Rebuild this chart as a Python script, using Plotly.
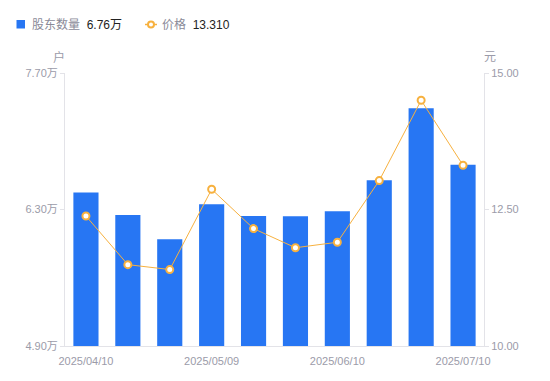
import plotly.graph_objects as go

dates = ["2025/04/10", "2025/04/18", "2025/04/30", "2025/05/09", "2025/05/20",
         "2025/05/30", "2025/06/10", "2025/06/20", "2025/06/30", "2025/07/10"]
holders = [64740, 62440, 59940, 63530, 62330, 62300, 62820, 66000, 73380, 67600]
price = [12.38, 11.49, 11.40, 12.87, 12.15, 11.80, 11.90, 13.03, 14.50, 13.31]

left_ticks = [49000, 63000, 77000]
left_tick_text = ["4.90万", "6.30万", "7.70万"]
right_ticks = [10, 12.5, 15]
right_tick_text = ["10.00", "12.50", "15.00"]
x_tick_dates = [dates[0], dates[3], dates[6], dates[9]]

BLUE = "#2776F3"
ORANGE = "#F7B13F"
GRAY = "#9B9BA9"
AXIS = "#E3E3E8"
FONT = "Liberation Sans, Noto Sans CJK SC, sans-serif"

# plot area in screen pixels (page has 8px body margin)
PL, PR, PT, PB = 65, 484, 73, 346
PW, PH = PR - PL, PB - PT


def px(x):
    return (x - PL) / PW


def py(y):
    return (PB - y) / PH


fig = go.Figure()
fig.add_trace(go.Bar(x=dates, y=holders, marker=dict(color=BLUE, line=dict(width=0)),
                     width=0.6, yaxis="y", showlegend=False))
fig.add_trace(go.Scatter(x=dates, y=price, yaxis="y2", mode="lines+markers",
                         line=dict(color=ORANGE, width=1),
                         marker=dict(size=7, color="white", line=dict(color=ORANGE, width=2)),
                         showlegend=False))

fig.update_layout(
    width=542, height=373,
    margin=dict(l=PL - 8, r=542 - (PL - 8) - PW, t=PT - 8, b=373 - (PT - 8) - PH),
    plot_bgcolor="white", paper_bgcolor="white",
    font=dict(family=FONT, size=11, color=GRAY),
    xaxis=dict(type="category", tickvals=x_tick_dates, ticktext=x_tick_dates,
               showline=True, linecolor=AXIS, linewidth=1,
               ticks="outside", ticklen=5, tickcolor="rgba(0,0,0,0)", showgrid=False,
               tickfont=dict(size=11, color=GRAY), range=[-0.5, 9.5]),
    yaxis=dict(range=[49000, 77000], tickvals=left_ticks, ticktext=left_tick_text,
               showline=True, linecolor=AXIS, ticks="outside", ticklen=4, tickcolor=AXIS,
               showgrid=False, zeroline=False, tickfont=dict(size=11, color=GRAY)),
    yaxis2=dict(range=[10, 15], tickvals=right_ticks, ticktext=right_tick_text,
                overlaying="y", side="right",
                showline=True, linecolor=AXIS, ticks="outside", ticklen=4, tickcolor=AXIS,
                showgrid=False, zeroline=False, tickfont=dict(size=11, color=GRAY)),
)

# axis unit titles
fig.add_annotation(text="户", xref="paper", yref="paper", x=px(59), y=py(57),
                   xanchor="center", yanchor="middle",
                   showarrow=False, font=dict(size=12, color=GRAY))
fig.add_annotation(text="元", xref="paper", yref="paper", x=px(490), y=py(57),
                   xanchor="center", yanchor="middle",
                   showarrow=False, font=dict(size=12, color=GRAY))

# custom legend
fig.add_shape(type="rect", xref="paper", yref="paper",
              x0=px(16.5), x1=px(25), y0=py(28.5), y1=py(20),
              fillcolor=BLUE, line=dict(width=0))
fig.add_annotation(xref="paper", yref="paper", x=px(30), y=py(24.5),
                   xanchor="left", yanchor="middle", showarrow=False,
                   text=f"股东数量  <span style='color:#222222'>{holders[-1]/10000:.2f}万</span>",
                   font=dict(size=12, color="#8A8A98"))
fig.add_shape(type="line", xref="paper", yref="paper",
              x0=px(145), x1=px(157), y0=py(24.5), y1=py(24.5),
              line=dict(color=ORANGE, width=1.5))
fig.add_shape(type="circle", xref="paper", yref="paper",
              xsizemode="pixel", ysizemode="pixel",
              xanchor=px(151), yanchor=py(24.5), x0=-3, x1=3, y0=-3, y1=3,
              fillcolor="white", line=dict(color=ORANGE, width=2))
fig.add_annotation(xref="paper", yref="paper", x=px(160), y=py(24.5),
                   xanchor="left", yanchor="middle", showarrow=False,
                   text=f"价格  <span style='color:#222222'>{price[-1]:.3f}</span>",
                   font=dict(size=12, color="#8A8A98"))

fig.write_html("out.html")
